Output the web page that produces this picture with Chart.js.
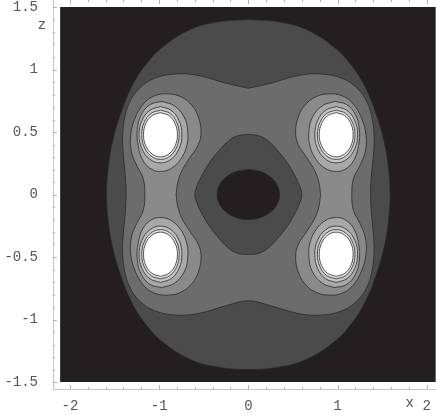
<!DOCTYPE html>
<html>
<head>
<meta charset="utf-8">
<script src="https://cdn.jsdelivr.net/npm/chart.js@4.4.1/dist/chart.umd.min.js"></script>
<style>
  html, body { margin: 0; padding: 0; background: #fff; }
  #plot { display: block; }
</style>
</head>
<body>
<canvas id="plot" width="436" height="416"></canvas>
<script>
//-- Axis ticks//
const xTickValues = [-2, -1, 0, 1, 2];
const zTickValues = [-1.5, -1, -0.5, 0, 0.5, 1, 1.5];

//-- Plot region (the black background)//
const plotX = [-2.11, 2.1];
const plotZ = [-1.5, 1.5];

//-- Contours//
// symmetric shapes: one quadrant, from the top (x=0) round to the right (z=0)
const level1X = [0, 0.35, 0.65, 0.96, 1.16, 1.31, 1.43, 1.52, 1.57, 1.59];
const level1Z = [1.40, 1.38, 1.32, 1.18, 1.03, 0.86, 0.65, 0.43, 0.22, 0];

const level2X = [0, 0.25, 0.55, 0.8, 1.05, 1.22, 1.33, 1.39, 1.41, 1.40, 1.38, 1.37];
const level2Z = [0.85, 0.89, 0.95, 0.965, 0.93, 0.85, 0.74, 0.6, 0.45, 0.3, 0.15, 0];

const diamondX = [0, 0.12, 0.22, 0.33, 0.44, 0.53, 0.58, 0.6];
const diamondZ = [0.48, 0.47, 0.43, 0.35, 0.25, 0.14, 0.06, 0];

const holeX = [0, 0.134, 0.247, 0.323, 0.35];
const holeZ = [0.2, 0.185, 0.141, 0.077, 0];

// right-hand band round both lobes: upper half, from the neck (z=0) round to z=0
const level3X = [0.81, 0.79, 0.745, 0.66, 0.56, 0.53, 0.56, 0.63, 0.75, 0.90, 1.05, 1.17, 1.27, 1.32, 1.31, 1.25, 1.18, 1.16];
const level3Z = [0, 0.10, 0.19, 0.29, 0.40, 0.50, 0.62, 0.71, 0.78, 0.805, 0.79, 0.73, 0.61, 0.47, 0.34, 0.23, 0.13, 0];

// upper right lobe, closed rings
const level4X = [0.97, 1.10, 1.20, 1.245, 1.235, 1.18, 1.08, 0.97, 0.86, 0.76, 0.69, 0.68, 0.72, 0.83];
const level4Z = [0.745, 0.72, 0.64, 0.52, 0.39, 0.27, 0.20, 0.185, 0.21, 0.28, 0.39, 0.51, 0.62, 0.71];

const level5X = [0.985, 1.105, 1.193, 1.225, 1.193, 1.105, 0.985, 0.865, 0.777, 0.745, 0.777, 0.865];
const level5Z = [0.703, 0.673, 0.591, 0.478, 0.366, 0.283, 0.253, 0.283, 0.366, 0.478, 0.591, 0.673];

const level6X = [0.985, 1.090, 1.167, 1.195, 1.167, 1.090, 0.985, 0.880, 0.803, 0.775, 0.803, 0.880];
const level6Z = [0.675, 0.649, 0.577, 0.478, 0.380, 0.307, 0.281, 0.307, 0.380, 0.478, 0.577, 0.649];

const peakX = [0.985, 1.080, 1.150, 1.175, 1.150, 1.080, 0.985, 0.890, 0.821, 0.795, 0.821, 0.890];
const peakZ = [0.655, 0.631, 0.567, 0.478, 0.390, 0.325, 0.301, 0.325, 0.390, 0.478, 0.567, 0.631];

//-- Shades//
const black = '#231f20';
const lineColor = '#2a2a2a';

//-- Building closed outlines//
function quadLoop(xs, zs) {
    const n = xs.length;
    const pts = [];
    for (let i = 0; i < n; i++) pts.push({ x: xs[i], y: zs[i] });
    for (let i = n - 2; i >= 0; i--) pts.push({ x: xs[i], y: -zs[i] });
    for (let i = 1; i < n; i++) pts.push({ x: -xs[i], y: -zs[i] });
    for (let i = n - 2; i >= 0; i--) pts.push({ x: -xs[i], y: zs[i] });
    return pts;
}

function halfLoop(xs, zs, sx) {
    const n = xs.length;
    const pts = [];
    for (let i = 0; i < n; i++) pts.push({ x: sx * xs[i], y: zs[i] });
    for (let i = n - 2; i >= 0; i--) pts.push({ x: sx * xs[i], y: -zs[i] });
    return pts;
}

function ringLoop(xs, zs, sx, sz) {
    const pts = xs.map((v, i) => ({ x: sx * v, y: sz * zs[i] }));
    pts.push(pts[0]);
    return pts;
}

function shape(data, color, order, withLine = true) {
    return {
        data,
        fill: 'shape',
        backgroundColor: color,
        borderColor: withLine ? lineColor : color,
        borderWidth: withLine ? 0.8 : 0,
        pointRadius: 0,
        tension: 0.4,
        order
    };
}

const datasets = [];
datasets.push(shape([
    { x: plotX[0], y: plotZ[1] }, { x: plotX[1], y: plotZ[1] },
    { x: plotX[1], y: plotZ[0] }, { x: plotX[0], y: plotZ[0] },
    { x: plotX[0], y: plotZ[1] }
], black, 100, false));
datasets[0].tension = 0;
datasets.push(shape(quadLoop(level1X, level1Z), '#4b4b4c', 90));
datasets.push(shape(quadLoop(level2X, level2Z), '#6c6c6c', 80));
datasets.push(shape(quadLoop(diamondX, diamondZ), '#4b4b4c', 70));
datasets.push(shape(quadLoop(holeX, holeZ), black, 60));
for (const sx of [1, -1]) {
    datasets.push(shape(halfLoop(level3X, level3Z, sx), '#8a8a8a', 50));
}
const rings = [
    [level4X, level4Z, '#a8a8a8', 40],
    [level5X, level5Z, '#c6c6c6', 30],
    [level6X, level6Z, '#e2e2e2', 20],
    [peakX, peakZ, '#ffffff', 10]
];
for (const [xs, zs, color, order] of rings) {
    for (const sx of [1, -1]) {
        for (const sz of [1, -1]) {
            datasets.push(shape(ringLoop(xs, zs, sx, sz), color, order));
        }
    }
}

//-- Frame ticks and axis names//
const frameDecor = {
    id: 'frameDecor',
    afterDraw(chart) {
        const { ctx, chartArea, scales: { x, y } } = chart;
        ctx.save();
        ctx.strokeStyle = '#b0b0b0';
        ctx.lineWidth = 1;
        ctx.beginPath();
        for (let i = -10; i <= 10; i++) {
            const len = i % 5 === 0 ? 4 : 2;
            const px = Math.round(x.getPixelForValue(i * 0.2)) + 0.5;
            ctx.moveTo(px, chartArea.bottom);
            ctx.lineTo(px, chartArea.bottom - len);
            ctx.moveTo(px, chartArea.top);
            ctx.lineTo(px, chartArea.top + len);
        }
        for (let i = -15; i <= 15; i++) {
            const len = i % 5 === 0 ? 4 : 2;
            const py = Math.round(y.getPixelForValue(i * 0.1)) + 0.5;
            ctx.moveTo(chartArea.left, py);
            ctx.lineTo(chartArea.left + len, py);
        }
        ctx.stroke();
        ctx.fillStyle = '#555';
        ctx.font = '14px "Liberation Mono"';
        ctx.textAlign = 'center';
        ctx.textBaseline = 'middle';
        ctx.fillText('x', x.getPixelForValue(2) - 17, chartArea.bottom + 14);
        ctx.fillText('z', chartArea.left - 11, y.getPixelForValue(1.355));
        ctx.restore();
    }
};

const tickFont = { family: 'Liberation Mono', size: 14 };

new Chart(document.getElementById('plot'), {
    type: 'line',
    data: { datasets },
    options: {
        responsive: false,
        animation: false,
        devicePixelRatio: 1,
        layout: { padding: 0 },
        plugins: { legend: { display: false }, tooltip: { enabled: false } },
        scales: {
            x: {
                type: 'linear',
                min: -2.19,
                max: 2.104,
                grid: { display: false },
                border: { display: true, color: '#c4c4c4' },
                ticks: { font: tickFont, color: '#555', padding: 1, maxRotation: 0, callback: v => String(v) },
                afterBuildTicks: s => { s.ticks = xTickValues.map(v => ({ value: v })); },
                afterFit: s => { s.height = 27; s.paddingLeft = 0; s.paddingRight = 0; }
            },
            y: {
                type: 'linear',
                min: -1.556,
                max: 1.556,
                grid: { display: false },
                border: { display: true, color: '#c4c4c4' },
                ticks: { font: tickFont, color: '#555', padding: 7, callback: v => String(v) },
                afterBuildTicks: s => { s.ticks = zTickValues.map(v => ({ value: v })); },
                afterFit: s => { s.width = 53; s.paddingTop = 0; s.paddingBottom = 0; }
            }
        }
    },
    plugins: [frameDecor]
});
</script>
</body>
</html>
